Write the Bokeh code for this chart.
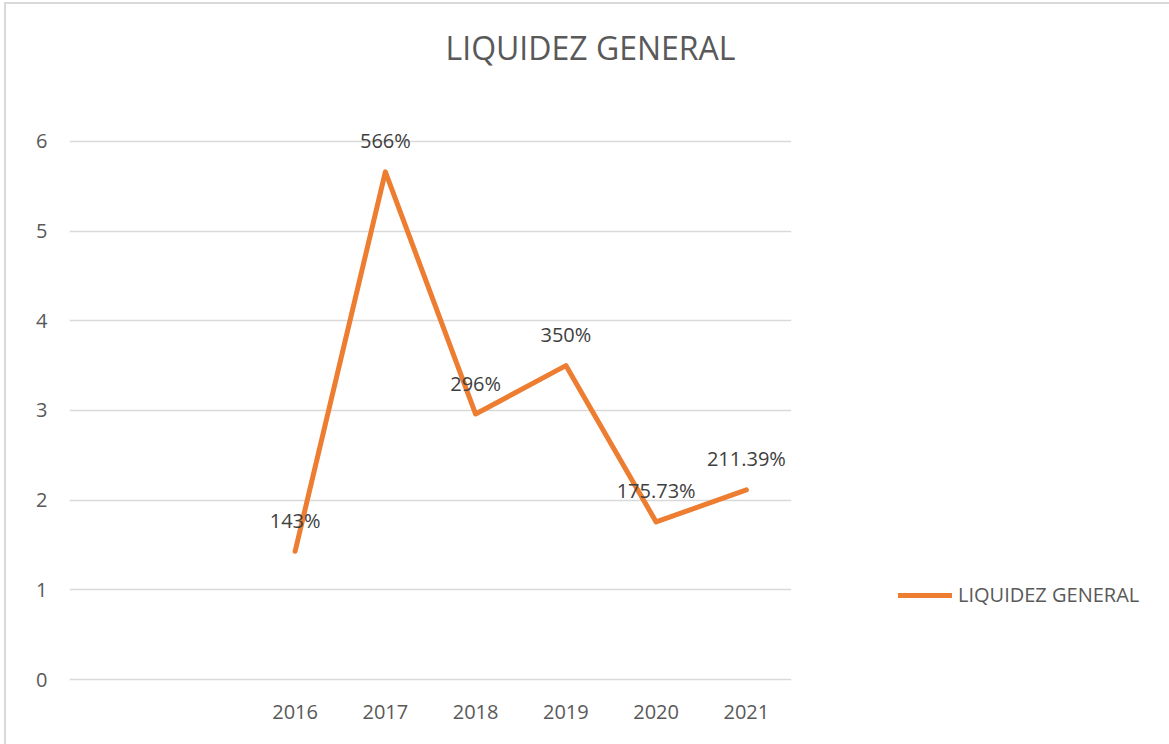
from bokeh.plotting import figure
from bokeh.models import ColumnDataSource, FixedTicker, Legend, LegendItem, Range1d, Title
from bokeh.embed import file_html
from bokeh.resources import INLINE
from bokeh.core.properties import value

years = ["2016", "2017", "2018", "2019", "2020", "2021"]
liquidez = [1.43, 5.66, 2.96, 3.50, 1.7573, 2.1139]
labels = ["143%", "566%", "296%", "350%", "175.73%", "211.39%"]
y_ticks = [0, 1, 2, 3, 4, 5, 6]
# two empty category slots precede 2016 on the category axis
lead_blank = 2

xpos = [lead_blank + i for i in range(len(years))]
src = ColumnDataSource(dict(x=xpos, y=liquidez, lab=labels))

FONT = "Open Sans"
GRAY = "#595959"
ORANGE = "#ED7D31"

unit = 89.7
frame_h = 579
y0 = -0.1
p = figure(width=1163, height=740, output_backend="svg", toolbar_location=None,
           x_range=Range1d(-0.5, 7.5), y_range=Range1d(y0, y0 + frame_h / unit),
           frame_width=722, frame_height=frame_h,
           min_border_left=63, min_border_right=378, min_border_top=105, min_border_bottom=56,
           styles={"border-top": "2px solid #D9D9D9", "border-left": "2px solid #D9D9D9",
                   "margin-left": "4px", "margin-top": "2px"})
p.outline_line_color = None
p.background_fill_color = "white"
p.border_fill_color = "white"

# invisible spacer between the frame and the title
spacer = Title(text=" ", text_font_size="1px", standoff=38)
p.add_layout(spacer, "above")
t = Title(text="LIQUIDEZ GENERAL", align="left", text_font=FONT, text_font_size="32px",
          text_color=GRAY, text_font_style="normal", standoff=0, offset=376)
p.add_layout(t, "above")

p.xaxis.ticker = FixedTicker(ticks=xpos)
p.xaxis.major_label_overrides = {x: yv for x, yv in zip(xpos, years)}
p.yaxis.ticker = FixedTicker(ticks=y_ticks)
for ax in (p.xaxis, p.yaxis):
    ax.axis_line_color = None
    ax.major_tick_line_color = None
    ax.minor_tick_line_color = None
    ax.major_tick_out = 0
    ax.major_tick_in = 0
    ax.minor_tick_out = 0
    ax.minor_tick_in = 0
    ax.major_label_text_font = FONT
    ax.major_label_text_font_size = "20px"
    ax.major_label_text_color = GRAY
p.xaxis.major_label_standoff = 16
p.yaxis.major_label_standoff = 22

p.xgrid.grid_line_color = None
p.ygrid.ticker = FixedTicker(ticks=y_ticks)
p.ygrid.grid_line_color = "#D9D9D9"
p.ygrid.grid_line_width = 1.5

r = p.line("x", "y", source=src, line_color=ORANGE, line_width=5, line_cap="round", line_join="round")
p.text("x", "y", text="lab", source=src, y_offset=-31, text_align="center", text_baseline="middle",
       text_font=value(FONT), text_font_size="20px", text_color="#404040")

legend = Legend(items=[LegendItem(label="LIQUIDEZ GENERAL", renderers=[r])],
                location=(107, 80), padding=0, margin=0, glyph_width=54, label_standoff=6,
                label_text_font=FONT, label_text_font_size="20px", label_text_color=GRAY,
                border_line_color=None, background_fill_alpha=0)
p.add_layout(legend, "right")

open("out.html", "w").write(file_html(p, INLINE))
